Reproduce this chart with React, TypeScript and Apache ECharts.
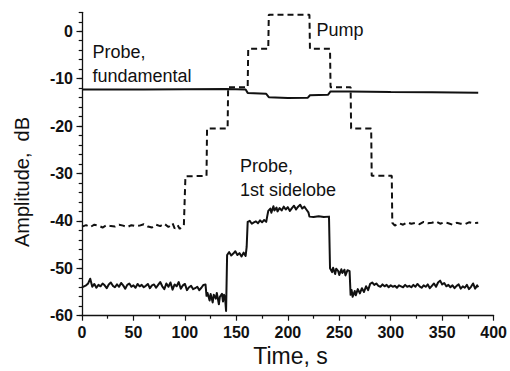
import React, { useEffect, useRef } from "react";
import * as echarts from "echarts";

// Time (s), amplitude (dB) pairs
const pumpData: [number, number][] = [
  [0, -41.2], [4, -40.9], [8, -41.3], [12, -40.8], [16, -41.0], [20, -41.4], [24, -40.9], [28, -41.1],
  [32, -41.2], [36, -40.8], [40, -41.0], [44, -41.3], [48, -40.9], [52, -41.1], [56, -41.0], [60, -40.7],
  [64, -41.2], [68, -41.4], [72, -40.8], [76, -41.1], [80, -40.6], [84, -41.3], [88, -40.5], [90, -41.6],
  [93, -40.9], [95, -41.7], [97, -41.2], [99, -40.9],
  [100.5, -30.6], [121, -30.5], [121.5, -20.5], [141.5, -20.5], [142, -11.8], [161, -11.8],
  [161.5, -3.7], [181, -3.7], [181.5, 3.5], [221, 3.5], [221.5, -3.7], [241, -3.7],
  [241.5, -11.8], [261, -11.8], [261.5, -20.5], [281, -20.5], [281.5, -30.5], [301, -30.5],
  [301.5, -40.4], [304, -41.0], [308, -40.5], [312, -40.8], [316, -40.3], [320, -40.6], [324, -40.4],
  [328, -40.7], [332, -40.2], [336, -40.5], [340, -40.4], [344, -40.1], [348, -40.6], [352, -40.3],
  [356, -40.5], [360, -40.8], [364, -40.4], [368, -40.6], [372, -40.7], [376, -40.3], [380, -40.5],
  [385, -40.4],
];

const fundamentalData: [number, number][] = [
  [0, -12.3], [30, -12.3], [60, -12.3], [100, -12.25], [140, -12.2], [159, -12.3], [161, -13.0],
  [179, -13.2], [181.5, -13.9], [200, -14.1], [219.5, -14.0], [221.5, -13.5], [239, -13.4],
  [241.5, -12.7], [260, -12.7], [300, -12.8], [340, -12.85], [385, -12.95],
];

const sidelobeData: [number, number][] = [
  [0, -54.0], [2, -53.8], [4, -53.6], [6, -53.2], [8, -52.2], [10, -53.9], [12, -53.3], [14, -54.1],
  [16, -53.5], [18, -53.8], [20, -53.2], [22, -53.6], [24, -54.2], [26, -53.4], [28, -53.0], [30, -53.7],
  [32, -54.0], [34, -53.4], [36, -53.9], [38, -53.1], [40, -53.6], [42, -54.3], [44, -53.5], [46, -53.2],
  [48, -53.9], [50, -53.6], [52, -54.1], [54, -53.3], [56, -53.8], [58, -53.5], [60, -54.0], [62, -53.7],
  [64, -53.3], [66, -54.2], [68, -53.6], [70, -53.4], [72, -54.1], [74, -53.5], [76, -52.9], [78, -53.8],
  [80, -54.4], [82, -53.2], [84, -53.9], [86, -53.0], [88, -54.5], [90, -53.4], [92, -53.8], [94, -52.9],
  [96, -54.3], [98, -53.6], [100, -53.3], [102, -54.6], [104, -54.0], [106, -53.7], [108, -54.4],
  [110, -54.2], [112, -53.9], [114, -54.6], [116, -54.1], [118, -53.5], [120, -53.4],
  [121, -55.8], [122, -55.2], [124, -56.8], [125, -55.4], [127, -57.2], [128, -55.6], [130, -56.4],
  [131, -55.2], [133, -57.6], [134, -56.0], [136, -55.4], [137, -57.0], [138, -55.6], [139, -56.2],
  [140, -59.0], [141, -47.2], [143, -46.6], [145, -47.3], [147, -46.9], [149, -46.4], [151, -47.2],
  [153, -46.8], [155, -47.5], [157, -46.7], [159, -47.4], [160, -45.5], [161, -40.2], [163, -40.0],
  [165, -40.6], [167, -40.3], [169, -40.1], [171, -40.5], [173, -39.9], [175, -40.3], [177, -39.8],
  [179, -40.2], [180, -39.0], [181, -37.9], [183, -37.4], [184, -38.3], [186, -36.9], [187, -37.8],
  [189, -37.2], [190, -38.0], [192, -37.3], [194, -37.8], [196, -37.0], [198, -37.6], [200, -37.1],
  [202, -37.9], [204, -37.3], [206, -36.8], [208, -37.6], [210, -37.0], [212, -36.6], [214, -37.4],
  [216, -37.0], [218, -37.6], [220, -38.2], [221, -39.1], [225, -39.2], [230, -39.0], [235, -39.2],
  [240, -39.1], [241, -50.0], [243, -50.8], [244, -49.9], [246, -51.2], [247, -50.1], [249, -50.6],
  [250, -51.4], [252, -50.2], [253, -51.0], [255, -50.3], [256, -51.5], [258, -50.4], [260, -50.6],
  [261, -55.6], [262, -54.6], [263, -56.0], [265, -54.8], [266, -55.7], [268, -54.4], [270, -55.3],
  [272, -54.2], [274, -55.0], [276, -53.8], [278, -54.6], [280, -53.3], [282, -53.0], [284, -53.5],
  [286, -53.2], [288, -53.7], [290, -53.9], [292, -53.4], [294, -53.8], [296, -53.5], [298, -54.0],
  [300, -53.6], [302, -53.9], [304, -53.7], [306, -54.1], [308, -53.6], [310, -53.8], [312, -54.0],
  [314, -53.5], [316, -53.9], [318, -53.7], [320, -54.0], [322, -53.5], [324, -53.9], [326, -53.3],
  [328, -53.8], [330, -54.1], [332, -53.6], [334, -53.9], [336, -53.4], [338, -54.2], [340, -53.7],
  [342, -53.2], [344, -53.9], [346, -53.0], [348, -52.6], [350, -53.4], [352, -53.1], [354, -53.8],
  [356, -53.5], [358, -54.0], [360, -53.6], [362, -54.2], [364, -53.7], [366, -53.4], [368, -54.3],
  [370, -53.8], [372, -54.1], [374, -53.5], [376, -54.4], [378, -53.9], [380, -53.2], [382, -54.3],
  [384, -53.6], [385, -54.0],
];

const yTickValues = [-60, -50, -40, -30, -20, -10, 0];

const FONT = "'Liberation Sans', Arial, Helvetica, sans-serif";
const INK = "#111";

export default function App() {
  const ref = useRef<HTMLDivElement>(null);
  useEffect(() => {
    if (!ref.current) return;
    const chart = echarts.init(ref.current, undefined, { renderer: "svg" });
    const labelStyle = { fontFamily: FONT, fontSize: 18, fill: INK };
    chart.setOption({
      animation: false,
      backgroundColor: "#fff",
      grid: { left: 82, right: 14.3, top: 12.3, bottom: 55.3, containLabel: false },
      xAxis: {
        type: "value",
        min: 0,
        max: 400,
        interval: 50,
        position: "bottom",
        axisLine: { onZero: false, lineStyle: { color: INK, width: 1.3 } },
        axisTick: { length: 5, lineStyle: { color: INK, width: 1.2 } },
        minorTick: { show: true, splitNumber: 2, length: 3, lineStyle: { color: INK, width: 1.2 } },
        splitLine: { show: false },
        axisLabel: { color: INK, fontFamily: FONT, fontSize: 16, fontWeight: "bold", margin: 9 },
      },
      yAxis: [
        {
          type: "value",
          min: -60,
          max: 4,
          interval: 10,
          position: "left",
          axisLine: { show: true, onZero: false, lineStyle: { color: INK, width: 1.3 } },
          axisTick: { show: true, length: 5.5, customValues: yTickValues, lineStyle: { color: INK, width: 1.2 } },
          splitLine: { show: false },
          axisLabel: {
            color: INK, fontFamily: FONT, fontSize: 16, fontWeight: "bold", margin: 9,
            customValues: yTickValues,
          },
        },
        {
          type: "value",
          min: -60,
          max: 4,
          interval: 2,
          position: "left",
          axisLine: { show: false, onZero: false },
          axisTick: { show: true, length: 3.3, lineStyle: { color: INK, width: 1.2 } },
          axisLabel: { show: false },
          splitLine: { show: false },
        },
      ],
      series: [
        {
          name: "Pump",
          type: "line",
          data: pumpData,
          showSymbol: false,
          symbol: "none",
          lineStyle: { color: INK, width: 2, type: [6, 4] },
        },
        {
          name: "Probe, fundamental",
          type: "line",
          data: fundamentalData,
          showSymbol: false,
          symbol: "none",
          lineStyle: { color: INK, width: 2 },
        },
        {
          name: "Probe, 1st sidelobe",
          type: "line",
          data: sidelobeData,
          showSymbol: false,
          symbol: "none",
          lineStyle: { color: INK, width: 2, join: "round" },
        },
      ],
      graphic: [
        { type: "text", left: 92.5, top: 43, style: { ...labelStyle, text: "Probe," } },
        { type: "text", left: 92.5, top: 67, style: { ...labelStyle, text: "fundamental" } },
        { type: "text", left: 316.5, top: 21, style: { ...labelStyle, text: "Pump" } },
        { type: "text", left: 240, top: 156.5, style: { ...labelStyle, text: "Probe," } },
        { type: "text", left: 240, top: 180.5, style: { ...labelStyle, text: "1st sidelobe" } },
        {
          type: "text", x: 290.5, y: 356, style: {
            text: "Time, s", fontFamily: FONT, fontSize: 23, fill: INK, align: "center", verticalAlign: "middle",
          },
        },
        {
          type: "text", x: 22, y: 182, rotation: Math.PI / 2, style: {
            text: "Amplitude,  dB", fontFamily: FONT, fontSize: 20, fill: INK, align: "center", verticalAlign: "middle",
          },
        },
      ],
    });
    return () => chart.dispose();
  }, []);
  return <div ref={ref} style={{ width: 510, height: 371, position: "absolute", left: 0, top: 0 }} />;
}
